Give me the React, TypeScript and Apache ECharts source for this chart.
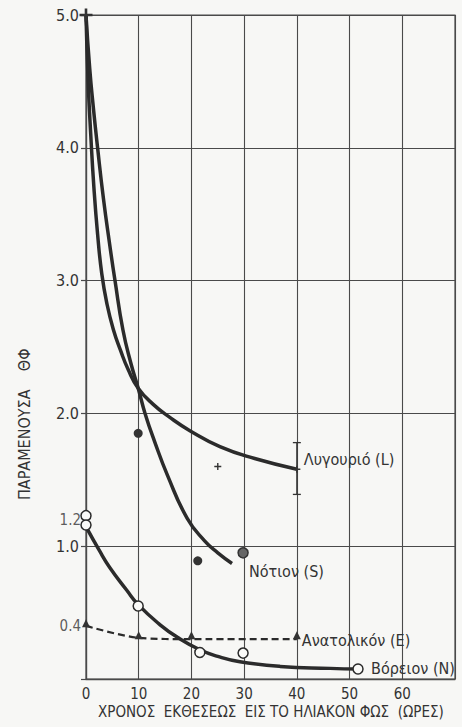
import React, { useEffect, useRef } from "react";
import * as echarts from "echarts";

// ---- data ----
const lygourioLine = [[0, 5.0], [0.4, 4.5], [0.9, 4.1], [1.5, 3.7], [2.2, 3.35], [3.0, 3.05], [4.0, 2.82], [5.2, 2.63], [6.5, 2.48], [8.0, 2.33], [9.9, 2.19], [12.7, 2.07], [15.9, 1.97], [19.7, 1.87], [25.4, 1.75], [32, 1.66], [40, 1.58]];
const notionLine = [[0, 5.0], [0.7, 4.6], [1.4, 4.3], [2.2, 4.0], [3.3, 3.62], [4.5, 3.27], [5.5, 3.0], [7.0, 2.63], [8.5, 2.38], [9.9, 2.19], [11.2, 2.0], [13, 1.79], [15.5, 1.53], [19.2, 1.21], [22.5, 1.04], [25, 0.95], [27.7, 0.87]];
const voreionLine = [[0.1, 1.14], [2.5, 0.97], [4.5, 0.84], [7.7, 0.67], [9.9, 0.56], [14, 0.41], [17.5, 0.31], [21.6, 0.22], [25, 0.17], [29.2, 0.13], [36.8, 0.095], [46.3, 0.08], [51.6, 0.075]];
const anatolikonLine = [[0, 0.4], [10, 0.31], [20, 0.3], [40, 0.3]];

const voreionPoints = [[0, 1.23], [0, 1.16], [9.9, 0.55], [21.6, 0.2], [29.8, 0.195], [51.6, 0.075]];
const notionPoints = [[9.9, 1.85], [21.2, 0.89]];
const notionGrayPoints = [[29.8, 0.95]];
const anatolikonPoints = [[0, 0.42], [10, 0.33], [20, 0.33], [40, 0.33]];
const plusPoints = [[0, 5.0], [25, 1.6], [40, 1.58]];
const errorBar = [[40, 1.39, 1.78]];

const extraTicks = [[0, 1.2, "1.2"], [0, 0.4, "0.4"]];

const xLabels = ["0", "10", "20", "30", "40", "50", "60", ""];
const yLabels = ["", "1.0", "2.0", "3.0", "4.0", "5.0"];

const seriesNames = ["Λυγουριό (L)", "Νότιον (S)", "Ανατολικόν (Ε)", "Βόρειον (N)"];
const xTitle = "ΧΡΟΝΟΣ  ΕΚΘΕΣΕΩΣ  ΕΙΣ ΤΟ ΗΛΙΑΚΟΝ ΦΩΣ  (ΩΡΕΣ)";
const yTitle = "ΠΑΡΑΜΕΝΟΥΣΑ    ΘΦ";

const FONT = "'DejaVu Sans Condensed', 'DejaVu Sans', sans-serif";
const INK = "#2b2b2b";
const GRIDC = "#4a4a4a";

export default function App() {
  const ref = useRef<HTMLDivElement>(null);
  useEffect(() => {
    if (!ref.current) return;
    const chart = echarts.init(ref.current, undefined, { renderer: "svg" });
    const endLbl = (name: string, offset: number[]) => ({
      show: true,
      formatter: name,
      color: "#333",
      fontFamily: FONT,
      fontSize: 16,
      distance: 3,
      offset,
    });
    const curve = (name: string, data: number[][], off: number[]) => ({
      type: "line", name, data, smooth: 0.5, showSymbol: false, symbol: "none",
      lineStyle: { color: INK, width: 3.5 }, endLabel: endLbl(name, off), clip: true, z: 3,
    });
    chart.setOption({
      animation: false,
      backgroundColor: "#f7f7f5",
      textStyle: { fontFamily: FONT },
      grid: { left: 86, right: 7, top: 15, bottom: 48, show: true, borderColor: GRIDC, borderWidth: 1.2, backgroundColor: "transparent" },
      xAxis: {
        type: "value", min: 0, max: 70, interval: 10,
        axisLine: { show: true, lineStyle: { color: GRIDC, width: 1.3 } },
        axisTick: { show: false },
        splitLine: { show: true, lineStyle: { color: GRIDC, width: 1.1 } },
        axisLabel: { formatter: (v: number) => xLabels[Math.round(v / 10)] ?? "", color: "#333", fontSize: 15, fontFamily: FONT, margin: 7, lineHeight: 15 },
      },
      yAxis: {
        type: "value", min: 0, max: 5, interval: 1,
        axisLine: { show: true, lineStyle: { color: GRIDC, width: 1.3 } },
        axisTick: { show: true, inside: false, length: 5, lineStyle: { color: GRIDC, width: 1.2 } },
        splitLine: { show: true, lineStyle: { color: GRIDC, width: 1.1 } },
        axisLabel: { formatter: (v: number) => yLabels[Math.round(v)] ?? "", color: "#333", fontSize: 16, fontFamily: FONT, margin: 7 },
      },
      graphic: [
        { type: "text", left: 98, top: 704, style: { text: xTitle, fill: "#333", font: `15px ${FONT}`, lineHeight: 15 } },
        { type: "text", x: 16, y: 500, rotation: Math.PI / 2, style: { text: yTitle, fill: "#333", font: `16px ${FONT}` } },
      ],
      series: [
        curve(seriesNames[0], lygourioLine, [4, -10]),
        curve(seriesNames[1], notionLine, [14, 8]),
        { type: "line", name: seriesNames[2], data: anatolikonLine, smooth: 0.3, showSymbol: false, symbol: "none", lineStyle: { color: INK, width: 2.2, type: [7, 4] }, endLabel: endLbl(seriesNames[2], [2, 1]), clip: true, z: 3 },
        curve(seriesNames[3], voreionLine, [10, -1]),
        { type: "scatter", data: voreionPoints, symbol: "circle", symbolSize: 10, itemStyle: { color: "#fafaf8", borderColor: INK, borderWidth: 1.5, opacity: 1 }, clip: false, z: 5 },
        { type: "scatter", data: notionPoints, symbol: "circle", symbolSize: 9, itemStyle: { color: "#333", opacity: 1 }, clip: false, z: 5 },
        { type: "scatter", data: notionGrayPoints, symbol: "circle", symbolSize: 10, itemStyle: { color: "#666", borderColor: "#333", borderWidth: 1.5, opacity: 1 }, clip: false, z: 5 },
        { type: "scatter", data: anatolikonPoints, symbol: "triangle", symbolSize: 8, itemStyle: { color: "#333", opacity: 1 }, clip: false, z: 5 },
        {
          type: "scatter", data: plusPoints, clip: false, z: 6,
          symbol: "path://M4,0h2v4h4v2h-4v4h-2v-4h-4v-2h4z",
          symbolSize: (v: number[]) => (v[1] >= 5 ? 13 : 7),
          itemStyle: { color: "#333", opacity: 1 },
        },
        {
          type: "custom", data: errorBar, clip: false, z: 4,
          renderItem: (params: any, api: any) => {
            const x = api.value(0);
            const lo = api.coord([x, api.value(1)]);
            const hi = api.coord([x, api.value(2)]);
            const st = { stroke: "#333", lineWidth: 1.3 };
            return {
              type: "group",
              children: [
                { type: "line", shape: { x1: lo[0], y1: lo[1], x2: hi[0], y2: hi[1] }, style: st },
                { type: "line", shape: { x1: lo[0] - 4, y1: lo[1], x2: lo[0] + 4, y2: lo[1] }, style: st },
                { type: "line", shape: { x1: hi[0] - 4, y1: hi[1], x2: hi[0] + 4, y2: hi[1] }, style: st },
              ],
            };
          },
        },
        {
          type: "scatter", data: extraTicks, symbolSize: 0, clip: false, z: 6,
          label: { show: true, position: "left", distance: 5, formatter: (p: any) => p.value[2], color: "#333", fontSize: 15, fontFamily: FONT },
        },
      ],
    });
    return () => chart.dispose();
  }, []);
  return <div ref={ref} style={{ position: "fixed", left: 0, top: 0, width: 462, height: 727 }} />;
}
